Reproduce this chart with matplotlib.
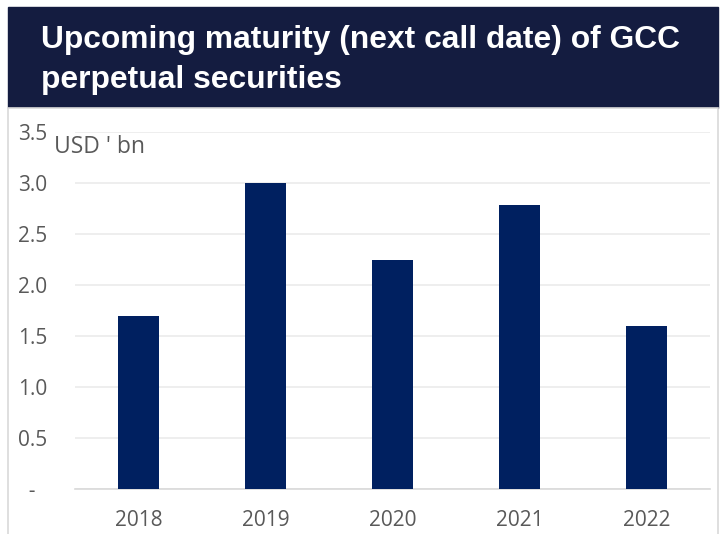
import matplotlib.pyplot as plt
from matplotlib.patches import Rectangle

years = ["2018", "2019", "2020", "2021", "2022"]
values = [1.70, 3.00, 2.25, 2.78, 1.60]
yticks = [0, 0.5, 1.0, 1.5, 2.0, 2.5, 3.0, 3.5]
ytick_labels = ["  -", "0.5", "1.0", "1.5", "2.0", "2.5", "3.0", "3.5"]
title_lines = ["Upcoming maturity (next call date) of GCC", "perpetual securities"]

navy = "#002060"
banner = "#141c40"
grey_txt = "#595959"

W, H = 723, 534
fig = plt.figure(figsize=(W / 100, H / 100), dpi=100)

# background: title banner and white panel frame (pixel coords)
bg = fig.add_axes([0, 0, 1, 1], zorder=0)
bg.set_xlim(0, W)
bg.set_ylim(H, 0)
bg.axis("off")
bg.add_patch(Rectangle((8, 7), 710, 101, color=banner))
bg.add_patch(Rectangle((8, 108), 710, 440, facecolor="white",
                       edgecolor="#d9d9d9", lw=1.2))
for yb, line in zip([48, 88], title_lines):
    bg.text(41, yb, line, color="white", fontsize=22.9, fontweight="bold",
            family="Liberation Sans", va="baseline", ha="left")
bg.text(54, 147, "USD ' bn", fontsize=16.5, color=grey_txt,
        family="Open Sans", va="center", ha="left")

ax = fig.add_axes([75 / W, 1 - 489 / H, 635 / W, (489 - 132) / H], zorder=1)
x = range(len(years))
ax.bar(x, values, width=0.33, color=navy, zorder=3)
ax.set_xlim(-0.5, len(years) - 0.5)
ax.set_ylim(0, 3.5)
ax.set_yticks(yticks)
ax.set_yticklabels(ytick_labels)
ax.set_xticks(list(x))
ax.set_xticklabels(years)
ax.grid(axis="y", color="#ebebeb", lw=1.2, zorder=0)
for s in ["top", "right", "left"]:
    ax.spines[s].set_visible(False)
ax.spines["bottom"].set_color("#d9d9d9")
ax.spines["bottom"].set_linewidth(1.2)
ax.tick_params(length=0, labelsize=15, labelcolor=grey_txt)
ax.tick_params(axis="x", pad=15)
ax.tick_params(axis="y", pad=41)
for lab in ax.get_yticklabels():
    lab.set_horizontalalignment("left")
for lab in ax.get_yticklabels() + ax.get_xticklabels():
    lab.set_family("Open Sans")
ax.set_facecolor("none")

fig.savefig("out.png", dpi=100)
